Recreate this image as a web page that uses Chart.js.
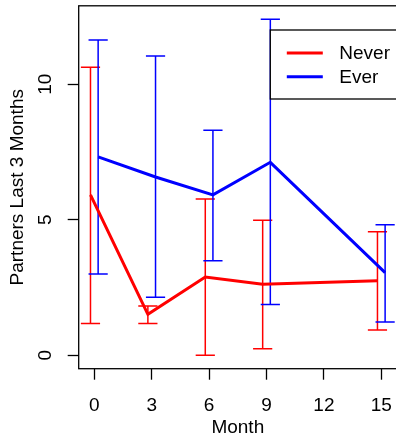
<!DOCTYPE html>
<html><head><meta charset="utf-8">
<script src="https://cdn.jsdelivr.net/npm/chart.js@4/dist/chart.umd.min.js"></script>
<style>
html,body{margin:0;padding:0;overflow:hidden;background:#fff;width:396px;height:436px}
#wrap{width:400px;height:436px}
</style></head>
<body><div id="wrap"><canvas id="c" width="400" height="436"></canvas></div>
<script>
// ---- data ----
const months = [0, 3, 6, 9, 15];
const xTicks = [0, 3, 6, 9, 12, 15];
const yTicks = [0, 5, 10];
const seriesNames = ['Never', 'Ever'];
const neverMean  = [5.92, 1.51, 2.89, 2.62, 2.75];
const neverLower = [1.17, 1.17, 0.00, 0.24, 0.93];
const neverUpper = [10.63, 1.82, 5.77, 4.98, 4.56];
const everMean   = [7.32, 6.58, 5.92, 7.12, 3.05];
const everLower  = [3.00, 2.14, 3.49, 1.87, 1.23];
const everUpper  = [11.63, 11.04, 8.30, 12.40, 4.82];
const groupOffset = [-0.2, 0.2];

const FONT = {family: '"Liberation Sans", Arial, Helvetica, sans-serif', size: 19};

function pts(vals, off) { return months.map((m, i) => ({x: m + off, y: vals[i]})); }
function noPad(s) { s.paddingTop = 0; s.paddingBottom = 0; s.paddingLeft = 0; s.paddingRight = 0; }

const errorBars = {
  id: 'errorBars',
  beforeDatasetsDraw(chart) {
    const {ctx, scales: {x, y}} = chart;
    const cap = 9.6;
    chart.data.datasets.forEach(ds => {
      ctx.save();
      ctx.strokeStyle = ds.borderColor;
      ctx.lineWidth = 1.5;
      ds.errLow.forEach((lo, i) => {
        const px = x.getPixelForValue(ds.data[i].x);
        const pl = y.getPixelForValue(lo);
        const ph = y.getPixelForValue(ds.errHigh[i]);
        ctx.beginPath();
        ctx.moveTo(px, pl); ctx.lineTo(px, ph);
        ctx.moveTo(px - cap, pl); ctx.lineTo(px + cap, pl);
        ctx.moveTo(px - cap, ph); ctx.lineTo(px + cap, ph);
        ctx.stroke();
      });
      ctx.restore();
    });
  }
};

const boxAndLegend = {
  id: 'boxAndLegend',
  afterDraw(chart) {
    const {ctx, chartArea: a} = chart;
    ctx.save();
    ctx.strokeStyle = '#000';
    ctx.lineWidth = 1.3;
    ctx.strokeRect(a.left, a.top, a.right - a.left, a.bottom - a.top);
    const lx = a.right - 126.6, ly = a.top + 24.2, lw = 126.6, lh = 69;
    ctx.fillStyle = '#fff';
    ctx.fillRect(lx, ly, lw, lh);
    ctx.strokeRect(lx, ly, lw, lh);
    ctx.font = FONT.size + 'px ' + FONT.family;
    ctx.textBaseline = 'middle';
    ctx.textAlign = 'left';
    chart.data.datasets.forEach((ds, i) => {
      const yy = ly + 23 + i * 23.7;
      ctx.strokeStyle = ds.borderColor;
      ctx.lineWidth = 3;
      ctx.beginPath();
      ctx.moveTo(lx + 16.5, yy); ctx.lineTo(lx + 52.5, yy);
      ctx.stroke();
      ctx.fillStyle = '#000';
      ctx.fillText(ds.label, lx + 69, yy + 1);
    });
    ctx.restore();
  }
};

new Chart(document.getElementById('c'), {
  type: 'line',
  data: {
    datasets: [
      {label: seriesNames[0], data: pts(neverMean, groupOffset[0]), errLow: neverLower, errHigh: neverUpper,
       borderColor: '#ff0000', backgroundColor: '#ff0000', borderWidth: 3, pointRadius: 0, tension: 0, fill: false},
      {label: seriesNames[1], data: pts(everMean, groupOffset[1]), errLow: everLower, errHigh: everUpper,
       borderColor: '#0000ff', backgroundColor: '#0000ff', borderWidth: 3, pointRadius: 0, tension: 0, fill: false}
    ]
  },
  options: {
    responsive: false,
    animation: false,
    devicePixelRatio: 1,
    layout: {padding: {left: 0, top: 5.8, right: 3.1, bottom: 0}},
    plugins: {legend: {display: false}, tooltip: {enabled: false}},
    scales: {
      x: {
        type: 'linear', min: -0.816, max: 15.816,
        afterBuildTicks: s => { s.ticks = xTicks.map(v => ({value: v})); },
        afterFit: s => { s.height = 67.3; noPad(s); },
        ticks: {autoSkip: false, color: '#000', font: FONT, padding: 14.4, maxRotation: 0, callback: v => String(v)},
        grid: {drawOnChartArea: false, drawTicks: true, tickLength: 11, tickColor: '#000', tickWidth: 1.3},
        border: {display: false},
        title: {display: true, text: 'Month', color: '#000', font: {...FONT, lineHeight: 1}, padding: {top: 0, bottom: -1.5}}
      },
      y: {
        type: 'linear', min: -0.496, max: 12.896,
        afterBuildTicks: s => { s.ticks = yTicks.map(v => ({value: v})); },
        afterFit: s => { s.width = 78.7; noPad(s); },
        ticks: {autoSkip: false, color: '#000', font: FONT, padding: 11.3, minRotation: 90, maxRotation: 90, crossAlign: 'center', callback: v => String(v)},
        grid: {drawOnChartArea: false, drawTicks: true, tickLength: 11, tickColor: '#000', tickWidth: 1.3},
        border: {display: false},
        title: {display: true, text: 'Partners Last 3 Months', color: '#000', font: {...FONT, lineHeight: 1}, padding: {top: 8, bottom: 0}}
      }
    }
  },
  plugins: [errorBars, boxAndLegend]
});
</script>
</body></html>
